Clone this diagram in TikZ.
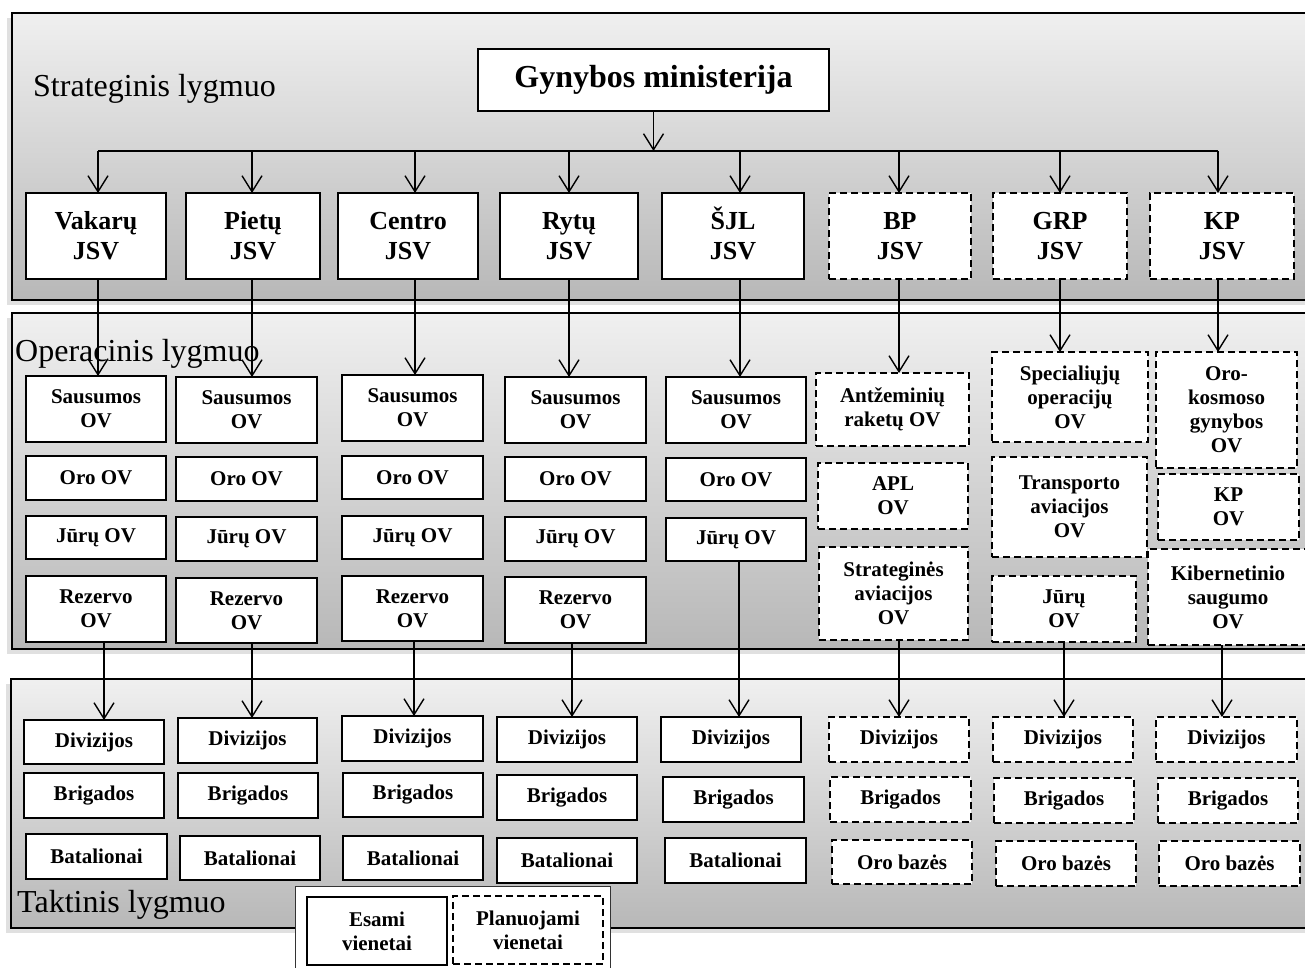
\documentclass[tikz,border=0pt]{standalone}
\usepackage{fontspec}
\setmainfont{Liberation Serif}
\usetikzlibrary{arrows.meta}
\newcommand{\mkbox}[7]{%
  \node[#2, minimum width={(#5-#3)*1pt}, minimum height={(#6-#4)*1pt}] (#1) at ({(#3+#5)/2},{(#4+#6)/2}) {#7};}
\tikzset{
  solidbox/.style={draw, line width=1.6pt, fill=white, inner sep=0pt, outer sep=0pt, align=center,
    font=\bfseries\fontsize{21}{24}\selectfont},
  planbox/.style={solidbox, dash pattern=on 7pt off 4pt},
  jsvbox/.style={solidbox, font=\bfseries\fontsize{26}{30}\selectfont},
  jsvplan/.style={planbox, font=\bfseries\fontsize{26}{30}\selectfont},
  conn/.style={line width=1.4pt, -{Straight Barb[length=16pt,width=20pt,line width=1.4pt]}},
  busline/.style={line width=1.4pt},
  band/.style={top color=black!6, bottom color=black!28, draw=black, line width=1.8pt},
  bandshadow/.style={fill=black!12},
  lvl/.style={font=\fontsize{32}{36}\selectfont, inner sep=0pt, anchor=base west},
  legendbox/.style={draw=black!80, line width=1pt, fill=white}
}
\begin{document}
\begin{tikzpicture}[x=1pt,y=-1pt]
\useasboundingbox (0,0) rectangle (1305,967);
\clip (0,0) rectangle (1305,967);
% bands
\fill[bandshadow] (7,18) rectangle (1320,305);
\shade[band] (12,13) rectangle (1320,300);
\fill[bandshadow] (7,318) rectangle (1320,654);
\shade[band] (12,313) rectangle (1320,649);
\fill[bandshadow] (6,684) rectangle (1320,933);
\shade[band] (11,679) rectangle (1320,928);
% level labels
\node[lvl] (lst) at (33,96) {Strateginis lygmuo};
\node[lvl] (lop) at (15,361) {Operacinis lygmuo};
\node[lvl] (ltk) at (17,912) {Taktinis lygmuo};
% ministry
\mkbox{gm}{solidbox, font=\bfseries\fontsize{32}{36}\selectfont}{478}{49}{829}{111}{Gynybos ministerija}
% JSV row
\mkbox{vak}{jsvbox}{26}{193}{166}{279}{Vakarų\\JSV}
\mkbox{pie}{jsvbox}{186}{193}{320}{279}{Pietų\\JSV}
\mkbox{cen}{jsvbox}{338}{193}{478}{279}{Centro\\JSV}
\mkbox{ryt}{jsvbox}{500}{193}{638}{279}{Rytų\\JSV}
\mkbox{sjl}{jsvbox}{662}{193}{804}{279}{\smash{Š}JL\\JSV}
\mkbox{bp}{jsvplan}{829}{193}{971}{279}{BP\\JSV}
\mkbox{grp}{jsvplan}{993}{193}{1127}{279}{GRP\\JSV}
\mkbox{kp}{jsvplan}{1150}{193}{1294}{279}{KP\\JSV}
% operational: column 1
\mkbox{vs}{solidbox}{26}{376}{166}{442}{Sausumos\\OV}
\mkbox{vo}{solidbox}{26}{456}{166}{500}{Oro OV}
\mkbox{vj}{solidbox}{26}{516}{166}{559}{Jūrų OV}
\mkbox{vr}{solidbox}{26}{576}{166}{642}{Rezervo\\OV}
% column 2
\mkbox{ps}{solidbox}{176}{377}{317}{443}{Sausumos\\OV}
\mkbox{po}{solidbox}{176}{457}{317}{501}{Oro OV}
\mkbox{pj}{solidbox}{176}{517}{317}{561}{Jūrų OV}
\mkbox{pr}{solidbox}{176}{578}{317}{643}{Rezervo\\OV}
% column 3
\mkbox{cs}{solidbox}{342}{375}{483}{441}{Sausumos\\OV}
\mkbox{co}{solidbox}{342}{456}{483}{499}{Oro OV}
\mkbox{cj}{solidbox}{342}{516}{483}{559}{Jūrų OV}
\mkbox{cr}{solidbox}{342}{576}{483}{641}{Rezervo\\OV}
% column 4
\mkbox{rs}{solidbox}{505}{377}{646}{443}{Sausumos\\OV}
\mkbox{ro}{solidbox}{505}{457}{646}{501}{Oro OV}
\mkbox{rj}{solidbox}{505}{517}{646}{561}{Jūrų OV}
\mkbox{rr}{solidbox}{505}{577}{646}{643}{Rezervo\\OV}
% column 5
\mkbox{ss}{solidbox}{666}{377}{806}{443}{Sausumos\\OV}
\mkbox{so}{solidbox}{666}{458}{806}{501}{Oro OV}
\mkbox{sj}{solidbox}{666}{518}{806}{561}{Jūrų OV}
% column 6
\mkbox{ba}{planbox}{816}{373}{969}{446}{Antžeminių\\raketų OV}
\mkbox{bap}{planbox}{818}{463}{968}{529}{APL\\OV}
\mkbox{bsa}{planbox}{819}{547}{968}{640}{Strateginės\\aviacijos\\OV}
% column 7
\mkbox{gs}{planbox}{992}{352}{1148}{442}{Specialiųjų\\operacijų\\OV}
\mkbox{gt}{planbox}{992}{457}{1147}{557}{Transporto\\aviacijos\\OV}
\mkbox{gj}{planbox}{992}{576}{1136}{642}{Jūrų\\OV}
% column 8
\mkbox{ko}{planbox}{1156}{352}{1297}{468}{Oro-\\kosmoso\\gynybos\\OV}
\mkbox{kk}{planbox}{1158}{474}{1299}{540}{KP\\OV}
\mkbox{kc}{planbox}{1148}{549}{1308}{645}{Kibernetinio\\saugumo\\OV}
% tactical
\mkbox{vd}{solidbox}{24}{720}{164}{764}{Divizijos}
\mkbox{vb}{solidbox}{24}{773}{164}{818}{Brigados}
\mkbox{vt}{solidbox}{26}{834}{167}{879}{Batalionai}
\mkbox{pd}{solidbox}{178}{718}{317}{763}{Divizijos}
\mkbox{pb}{solidbox}{178}{773}{318}{818}{Brigados}
\mkbox{pt}{solidbox}{180}{836}{320}{880}{Batalionai}
\mkbox{cd}{solidbox}{342}{716}{483}{761}{Divizijos}
\mkbox{cb}{solidbox}{343}{773}{483}{817}{Brigados}
\mkbox{ct}{solidbox}{343}{836}{483}{880}{Batalionai}
\mkbox{rd}{solidbox}{497}{717}{637}{762}{Divizijos}
\mkbox{rb}{solidbox}{497}{775}{637}{820}{Brigados}
\mkbox{rt}{solidbox}{497}{838}{637}{883}{Batalionai}
\mkbox{sd}{solidbox}{661}{717}{801}{762}{Divizijos}
\mkbox{sb}{solidbox}{663}{777}{804}{822}{Brigados}
\mkbox{st}{solidbox}{665}{838}{806}{883}{Batalionai}
\mkbox{bd}{planbox}{829}{717}{969}{762}{Divizijos}
\mkbox{bb}{planbox}{830}{777}{971}{822}{Brigados}
\mkbox{bo}{planbox}{832}{840}{972}{884}{Oro bazės}
\mkbox{gd}{planbox}{993}{717}{1133}{762}{Divizijos}
\mkbox{gb}{planbox}{994}{778}{1134}{823}{Brigados}
\mkbox{go}{planbox}{996}{841}{1136}{886}{Oro bazės}
\mkbox{kd}{planbox}{1156}{717}{1297}{762}{Divizijos}
\mkbox{kb}{planbox}{1158}{778}{1298}{823}{Brigados}
\mkbox{kob}{planbox}{1159}{841}{1300}{886}{Oro bazės}
% legend
\mkbox{leg}{legendbox}{295}{886}{610}{980}{}
\mkbox{lesa}{solidbox}{307}{897}{447}{965}{Esami\\vienetai}
\mkbox{lplan}{planbox}{453}{896}{603}{964}{Planuojami\\vienetai}
% bus coordinates
\coordinate (b1) at (98,151);
\coordinate (b2) at (252,151);
\coordinate (b3) at (415,151);
\coordinate (b4) at (569,151);
\coordinate (b5) at (740,151);
\coordinate (b6) at (899,151);
\coordinate (b7) at (1060,151);
\coordinate (b8) at (1218,151);
\draw[busline] (b1) -- (b8);
\draw[conn] (gm.south) -- (gm.south |- b1);
\foreach \b/\n in {b1/vak,b2/pie,b3/cen,b4/ryt,b5/sjl,b6/bp,b7/grp,b8/kp}
  \draw[conn] (\b) -- (\b |- \n.north);
% JSV -> operational
\foreach \b/\s/\t in {b1/vak/vs,b2/pie/ps,b3/cen/cs,b4/ryt/rs,b5/sjl/ss,b6/bp/ba,b7/grp/gs,b8/kp/ko}
  \draw[conn] (\b |- \s.south) -- (\b |- \t.north);
% operational -> tactical
\coordinate (t1) at (104,0);
\coordinate (t2) at (252,0);
\coordinate (t3) at (414,0);
\coordinate (t4) at (572,0);
\coordinate (t5) at (739,0);
\coordinate (t6) at (899,0);
\coordinate (t7) at (1064,0);
\coordinate (t8) at (1222,0);
\foreach \c/\s/\t in {t1/vr/vd,t2/pr/pd,t3/cr/cd,t4/rr/rd,t5/sj/sd,t6/bsa/bd,t7/gj/gd,t8/kc/kd}
  \draw[conn] (\c |- \s.south) -- (\c |- \t.north);
\end{tikzpicture}
\end{document}
